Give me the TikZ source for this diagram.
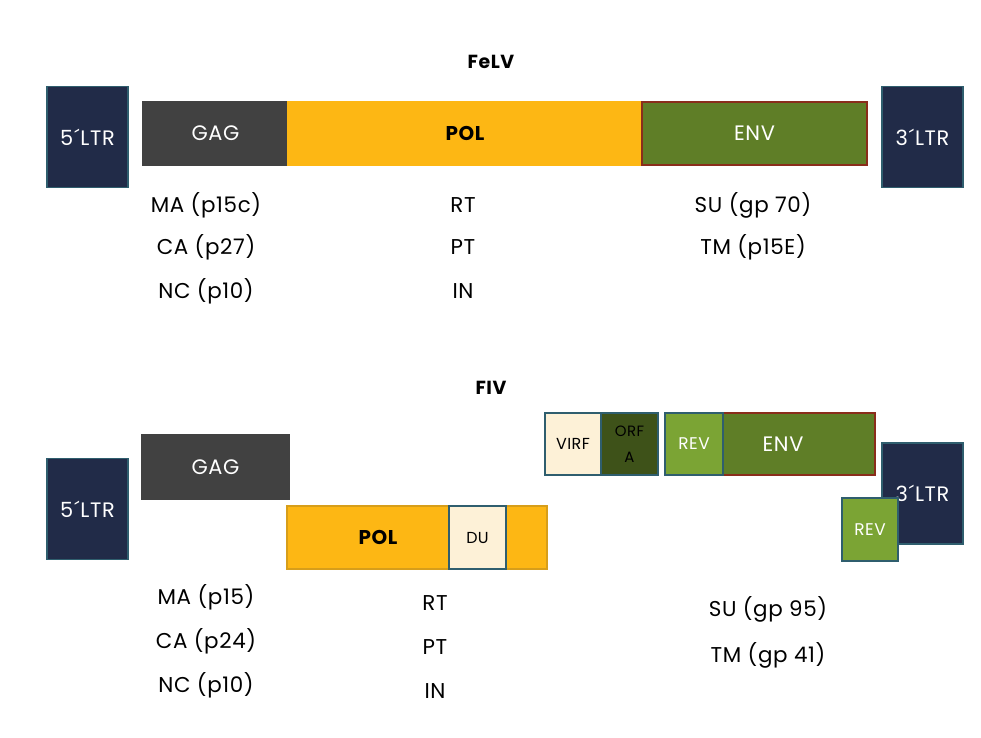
\documentclass[tikz,border=0pt]{standalone}
\usepackage{fontspec}
\setmainfont{Poppins}[LetterSpace=3]
\begin{document}
\begin{tikzpicture}[x=1bp,y=-1bp,
  box/.style={draw, line width=1.2bp, inner sep=0pt, font=\fontsize{21}{22}\selectfont},
  ltr/.style={box, fill=ltrblue, draw=ltredge, text=white},
  gag/.style={box, fill=gaggrey, draw=gaggrey, text=white},
  pol/.style={box, fill=polgold, draw=poledge, text=black, font=\fontsize{20}{21}\selectfont\bfseries},
  env/.style={box, fill=envgreen, draw=envedge, text=white},
  cream/.style={box, fill=creamfill, draw=ltredge, text=black, font=\fontsize{16}{17}\selectfont},
  orfa/.style={box, fill=orfgreen, draw=ltredge, text=black, font=\fontsize{15}{26}\selectfont, align=center},
  rev/.style={box, fill=revgreen, draw=ltredge, text=white, font=\fontsize{17}{18}\selectfont},
  lbl/.style={font=\fontsize{21.5}{22}\selectfont, text=black, inner sep=0pt},
  ttl/.style={font=\fontsize{19}{20}\selectfont\bfseries, inner sep=0pt}
]
\definecolor{ltrblue}{HTML}{212B48}
\definecolor{ltredge}{HTML}{2F5E6E}
\definecolor{gaggrey}{HTML}{414141}
\definecolor{polgold}{HTML}{FDB714}
\definecolor{poledge}{HTML}{D79E1A}
\definecolor{envgreen}{HTML}{5F7E27}
\definecolor{envedge}{HTML}{8A2D1B}
\definecolor{creamfill}{HTML}{FDF1D7}
\definecolor{orfgreen}{HTML}{3E5219}
\definecolor{revgreen}{HTML}{7BA434}
\useasboundingbox[fill=white] (0,0) rectangle (981,738);

% ---------- FeLV ----------
\node[ttl] (felv) at (491,62) {FeLV};
\node[ltr, minimum width=81bp, minimum height=101bp] (fltr5) at (87.5,137) {5\kern1bp´\kern1bp LTR};
\node[gag, minimum width=145bp, minimum height=63bp] (fgag) at (215.5,133.5) {GAG};
\node[pol, draw=polgold, minimum width=354bp, minimum height=63bp] (fpol) at (465,133.5) {POL};
\node[env, minimum width=225bp, minimum height=63bp] (fenv) at (754.5,133.5) {ENV};
\node[ltr, minimum width=81bp, minimum height=101bp] (fltr3) at (922.5,137) {3\kern1bp´\kern1bp LTR};

\node[lbl] (fma) at (206,205) {MA (p15c)};
\node[lbl] (fca) at (206,247) {CA (p27)};
\node[lbl] (fnc) at (206,291) {NC (p10)};
\node[lbl] (frt) at (463,205) {RT};
\node[lbl] (fpt) at (463,247) {PT};
\node[lbl] (fin) at (463,291) {IN};
\node[lbl] (fsu) at (753,205) {SU (gp 70)};
\node[lbl] (ftm) at (753,247) {TM (p15E)};

% ---------- FIV ----------
\node[ttl] (fiv) at (491,388) {FIV};
\node[ltr, minimum width=81bp, minimum height=101bp] (iltr5) at (87.5,509) {5\kern1bp´\kern1bp LTR};
\node[gag, minimum width=147bp, minimum height=64bp] (igag) at (215.5,467) {GAG};
\node[pol, minimum width=260bp, minimum height=63bp] (ipol) at (417,537.5) {};
\node[pol, draw=none, fill=none] (ipoltxt) at (378,537.5) {POL};
\node[cream, minimum width=57bp, minimum height=63bp] (idu) at (477.5,537.5) {DU};
\node[cream, minimum width=56bp, minimum height=62bp] (ivirf) at (573,444) {VIRF};
\node[orfa, minimum width=57bp, minimum height=62bp] (iorfa) at (629.5,444) {ORF\\A};
\node[env, minimum width=152bp, minimum height=62bp] (ienv) at (799,444) {};
\node[text=white, font=\fontsize{21}{22}\selectfont, inner sep=0pt] (ienvtxt) at (783,444) {ENV};
\node[rev, minimum width=58bp, minimum height=62bp] (irev1) at (694,444) {REV};
\node[ltr, minimum width=81bp, minimum height=101bp] (iltr3) at (922.5,493.5) {3\kern1bp´\kern1bp LTR};
\node[rev, minimum width=56bp, minimum height=63bp] (irev2) at (870,529.5) {REV};

\node[lbl] (ima) at (206,597) {MA (p15)};
\node[lbl] (ica) at (206,641) {CA (p24)};
\node[lbl] (inc) at (206,685) {NC (p10)};
\node[lbl] (irt) at (435,603) {RT};
\node[lbl] (ipt) at (435,647) {PT};
\node[lbl] (iin) at (435,691) {IN};
\node[lbl] (isu) at (768,609) {SU (gp 95)};
\node[lbl] (itm) at (768,655) {TM (gp 41)};
\end{tikzpicture}
\end{document}
